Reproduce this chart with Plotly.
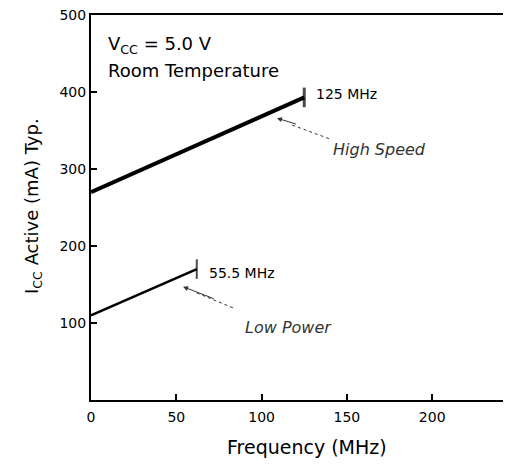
import plotly.graph_objects as go

# Data
hs_freq = [0, 125]          # High Speed, MHz
hs_icc = [270, 393]         # mA
lp_freq = [0, 62]           # Low Power, MHz
lp_icc = [110, 170]         # mA

x_ticks = [0, 50, 100, 150, 200]
y_ticks = [100, 200, 300, 400, 500]

FONT = "DejaVu Sans, Arial, sans-serif"

# page body has an 8px margin, so the figure is drawn 8px in from the window corner
OFF = 8
W, H = 511 - OFF, 468 - OFF
L, R, T, B = 91 - OFF, 0, 15 - OFF, 468 - 400
PX_PER_MHZ = 1.706

fig = go.Figure()

fig.add_trace(go.Scatter(
    x=hs_freq, y=hs_icc, mode="lines+markers",
    line=dict(color="black", width=4),
    marker=dict(symbol="line-ns", size=[0, 14], line=dict(color="black", width=3)),
    showlegend=False, hoverinfo="skip"))
fig.add_trace(go.Scatter(
    x=lp_freq, y=lp_icc, mode="lines+markers",
    line=dict(color="black", width=2.5),
    marker=dict(symbol="line-ns", size=[0, 14], line=dict(color="black", width=2)),
    showlegend=False, hoverinfo="skip"))

annots = [
    dict(x=9, y=461, xref="x", yref="y", text="V<sub>CC</sub> = 5.0 V", showarrow=False,
         xanchor="left", yanchor="middle", font=dict(size=18)),
    dict(x=9, y=428, xref="x", yref="y", text="Room Temperature", showarrow=False,
         xanchor="left", yanchor="middle", font=dict(size=18)),
    dict(x=131, y=398, xref="x", yref="y", text="125 MHz", showarrow=False,
         xanchor="left", yanchor="middle", font=dict(size=14)),
    dict(x=68, y=165, xref="x", yref="y", text="55.5 MHz", showarrow=False,
         xanchor="left", yanchor="middle", font=dict(size=14)),
    # labels with a short arrow tip near the curve (rest of leader drawn dotted)
    dict(x=109, y=366, xref="x", yref="y", ax=169, ay=325, axref="x", ayref="y",
         text="<i>High Speed</i>", showarrow=True, arrowside="end+start",
         arrowhead=2, startarrowhead=0, arrowsize=1, arrowwidth=1, arrowcolor="#333",
         startstandoff=50, font=dict(size=16, color="#333")),
    dict(x=54, y=147, xref="x", yref="y", ax=116, ay=94, axref="x", ayref="y",
         text="<i>Low Power</i>", showarrow=True, arrowside="end+start",
         arrowhead=2, startarrowhead=0, arrowsize=1, arrowwidth=1, arrowcolor="#333",
         startstandoff=50, font=dict(size=16, color="#333")),
    # axis titles (positions in window pixels)
    dict(x=307, y=447, text="Frequency (MHz)", showarrow=False,
         font=dict(size=19), xanchor="center", yanchor="middle"),
    dict(x=33, y=206, text="I<sub>CC</sub> Active (mA) Typ.", showarrow=False,
         font=dict(size=18), textangle=-90, xanchor="center", yanchor="middle"),
]
pw, ph = W - L - R, H - T - B
for a in annots[-2:]:
    px, py = a["x"] - OFF, a["y"] - OFF
    a["x"] = (px - L) / pw
    a["y"] = (H - B - py) / ph
    a["xref"] = "paper"
    a["yref"] = "paper"

fig.update_layout(annotations=annots)

# dotted leader lines
fig.add_shape(type="line", x0=118, y0=357, x1=140, y1=339, xref="x", yref="y",
              line=dict(color="#333", width=1, dash="dot"))
fig.add_shape(type="line", x0=62, y0=139, x1=84, y1=119, xref="x", yref="y",
              line=dict(color="#333", width=1, dash="dot"))

fig.update_xaxes(range=[0, (W - L) / PX_PER_MHZ], tickvals=x_ticks, ticks="inside", ticklen=6,
                 tickwidth=1.5, tickcolor="black", showline=True, linecolor="black", linewidth=2,
                 mirror=True, showgrid=False, zeroline=False, ticklabeloverflow="allow",
                 tickfont=dict(size=14, color="black"), ticklabelstandoff=3)
fig.update_yaxes(range=[0, 500], tickvals=y_ticks, ticks="inside", ticklen=6,
                 tickwidth=1.5, tickcolor="black", showline=True, linecolor="black", linewidth=2,
                 showgrid=False, zeroline=False, ticklabeloverflow="allow",
                 tickfont=dict(size=14, color="black"), ticklabelstandoff=0)

fig.update_layout(width=W, height=H, margin=dict(l=L, r=R, t=T, b=B),
                  paper_bgcolor="white", plot_bgcolor="white",
                  font=dict(family=FONT, color="black"))

fig.write_html("out.html")
